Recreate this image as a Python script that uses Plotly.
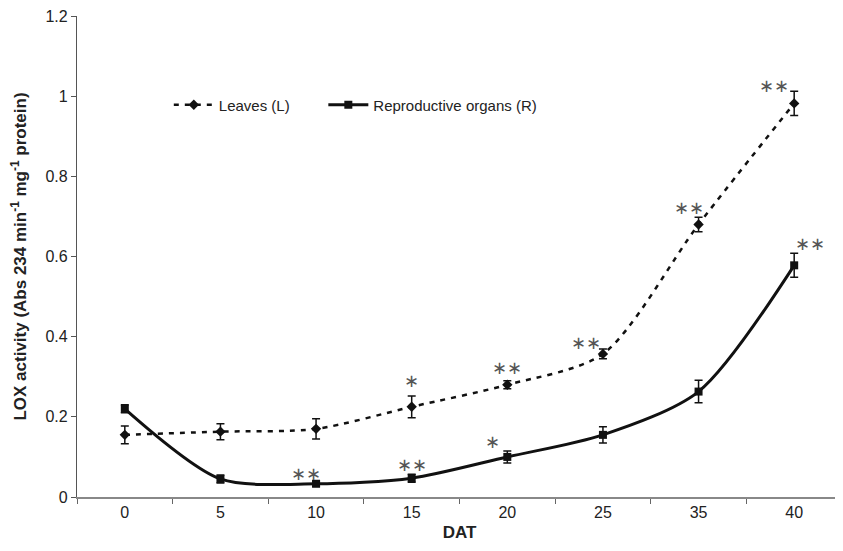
import plotly.graph_objects as go

dat = ["0", "5", "10", "15", "20", "25", "35", "40"]
leaves = [0.155, 0.163, 0.170, 0.225, 0.280, 0.357, 0.680, 0.982]
leaves_err = [0.022, 0.020, 0.025, 0.027, 0.010, 0.012, 0.018, 0.030]
repro = [0.220, 0.045, 0.033, 0.047, 0.100, 0.155, 0.263, 0.578]
repro_err = [0.010, 0.010, 0.006, 0.010, 0.015, 0.020, 0.028, 0.030]
yticks = [0, 0.2, 0.4, 0.6, 0.8, 1, 1.2]
ytick_text = ["0", "0.2", "0.4", "0.6", "0.8", "1", "1.2"]

# significance marks
leaves_sig = ["", "", "", "∗", "∗∗", "∗∗", "∗∗", "∗∗"]
repro_sig = ["", "", "∗∗", "∗∗", "∗", "", "", "∗∗"]

fig = go.Figure()
fig.add_trace(go.Scatter(
    x=dat, y=leaves, name="Leaves (L)", mode="lines+markers", legend="legend",
    line=dict(color="#111111", width=2.5, dash="5px,6px", shape="spline", smoothing=0.8),
    marker=dict(symbol="diamond", size=8, color="#111111"),
    error_y=dict(type="data", array=leaves_err, color="#111111", thickness=1.5, width=4),
))
fig.add_trace(go.Scatter(
    x=dat, y=repro, name="Reproductive organs (R)", mode="lines+markers", legend="legend2",
    line=dict(color="#111111", width=3, shape="spline", smoothing=0.8),
    marker=dict(symbol="square", size=8, color="#111111"),
    error_y=dict(type="data", array=repro_err, color="#111111", thickness=1.5, width=4),
))

leaves_shift = [(0, 0)] * 3 + [(0, 26), (0, 17), (-17, 11), (-10, 17), (-20, 18)]
repro_shift = [(0, 0)] * 2 + [(-10, 10), (0, 14), (-15, 15), (0, 0), (0, 0), (16, 22)]
sig_font = dict(family="DejaVu Sans", size=18, color="#555555")
for i, lab in enumerate(leaves_sig):
    if lab:
        fig.add_annotation(x=i, y=leaves[i], xref="x", yref="y", text=lab, showarrow=False,
                           xshift=leaves_shift[i][0], yshift=leaves_shift[i][1], font=sig_font)
for i, lab in enumerate(repro_sig):
    if lab:
        fig.add_annotation(x=i, y=repro[i], xref="x", yref="y", text=lab, showarrow=False,
                           xshift=repro_shift[i][0], yshift=repro_shift[i][1], font=sig_font)

leg_common = dict(orientation="h", y=0.815, xanchor="left", yanchor="middle",
                  font=dict(size=15), bgcolor="rgba(0,0,0,0)", itemwidth=40)
fig.update_layout(
    width=835, height=543,
    margin=dict(l=69, r=1, t=8, b=54),
    plot_bgcolor="white", paper_bgcolor="white",
    font=dict(family="Liberation Sans, Arial", size=16, color="#222222"),
    legend=dict(x=0.12, **leg_common),
    legend2=dict(x=0.322, **leg_common),
    showlegend=True,
)
fig.update_xaxes(
    type="category", range=[-0.5, 7.5], showline=True, linecolor="#888888", linewidth=1.5,
    ticks="outside", tickson="boundaries", ticklen=5, tickcolor="#666666",
    showgrid=False, zeroline=False, automargin=False, ticklabeloverflow="allow",
    title=dict(text="<b>DAT</b>", font=dict(size=17), standoff=6),
)
fig.update_yaxes(
    range=[0, 1.2], tickvals=yticks, ticktext=ytick_text, showline=True,
    linecolor="#555555", linewidth=1.2, ticks="outside", ticklen=5, tickcolor="#555555",
    showgrid=False, zeroline=False, automargin=False, ticklabeloverflow="allow",
    title=dict(text="<b>LOX activity (Abs 234 min<sup>-1</sup> mg<sup>-1</sup> protein)</b>",
               font=dict(size=17), standoff=14),
)
fig.write_html("out.html")
